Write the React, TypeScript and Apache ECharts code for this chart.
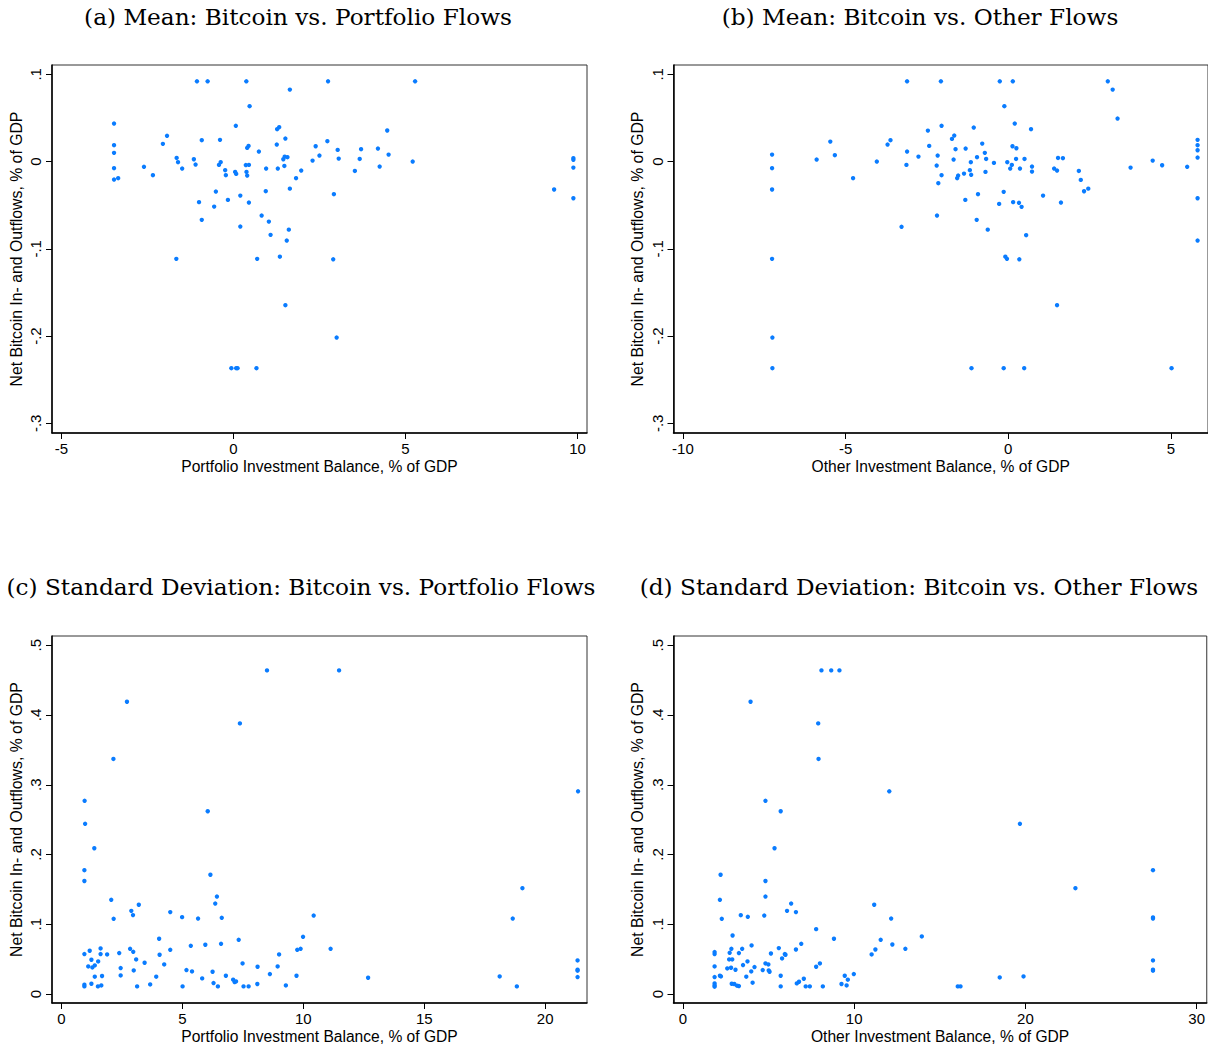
import React, { useEffect, useRef } from "react";
import * as echarts from "echarts";

// ---------- Data ----------
// Panel (a): Mean, Portfolio Investment Balance (x) vs Net Bitcoin flows (y)
const meanPortfolio: [number, number][] = [
  [-1.06, 0.092], [-0.75, 0.092], [0.375, 0.092], [1.64, 0.0825], [0.47, 0.0635],
  [-3.47, 0.0436], [0.07, 0.041], [1.33, 0.0394], [1.27, 0.0371], [1.51, 0.0264],
  [-1.93, 0.0295], [-2.05, 0.0203], [-0.92, 0.0245], [-0.39, 0.0249], [-3.47, 0.0188],
  [-3.47, 0.01], [0.44, 0.018], [0.4, 0.0157], [0.74, 0.0115], [1.26, 0.0195],
  [2.39, 0.0176], [-1.65, 0.0042], [-1.15, 0.0027], [-1.61, -0.0007], [-1.1, -0.0034],
  [-1.49, -0.008], [-0.37, -0.0007], [-0.42, -0.0038], [-0.24, -0.0099], [-0.22, -0.0156],
  [0.05, -0.0118], [0.08, -0.0141], [0.36, -0.004], [0.45, -0.0038], [0.38, -0.0118],
  [0.4, -0.016], [0.95, -0.008], [1.29, -0.008], [1.45, 0.0027], [1.49, 0.0057],
  [1.57, 0.005], [1.48, -0.005], [-3.47, -0.0076], [-3.47, -0.0206], [-3.35, -0.019],
  [-2.6, -0.006], [-2.34, -0.0156], [1.97, -0.0103], [1.82, -0.019], [2.3, 0.0011],
  [2.5, 0.0069], [-0.51, -0.0344], [-1.0, -0.0465], [-0.56, -0.0516], [-0.16, -0.0439],
  [0.2, -0.039], [0.45, -0.047], [0.94, -0.0339], [1.64, -0.031], [-0.92, -0.0668],
  [0.2, -0.0745], [0.82, -0.0619], [1.03, -0.0688], [1.08, -0.084], [1.61, -0.078],
  [1.55, -0.0905], [1.35, -0.109], [0.69, -0.1115], [-1.66, -0.1115],
  [2.75, 0.092], [5.28, 0.092], [4.47, 0.0356], [2.73, 0.0234], [3.03, 0.0134],
  [3.71, 0.0142], [4.2, 0.0149], [3.06, 0.0034], [3.67, 0.003], [4.51, 0.008],
  [4.25, -0.0057], [3.53, -0.0107], [5.21, 0.0], [2.92, -0.0374], [9.88, 0.0039],
  [9.88, 0.002], [9.88, -0.0069], [9.32, -0.032], [9.88, -0.042], [2.9, -0.112],
  [1.51, -0.1646], [3.0, -0.2017], [-0.06, -0.2368], [0.08, -0.2368], [0.12, -0.2368],
  [0.67, -0.2368],
];

// Panel (b): Mean, Other Investment Balance
const meanOther: [number, number][] = [
  [-3.11, 0.092], [-2.47, 0.0355], [-5.47, 0.0229], [-3.62, 0.0245], [-3.71, 0.0195],
  [-2.43, 0.018], [-3.11, 0.0115], [-2.76, 0.0057], [-2.17, 0.0069], [-7.26, 0.008],
  [-7.26, -0.0076], [-7.26, -0.032], [-5.89, 0.0023], [-5.33, 0.0073], [-4.04, 0.0],
  [-3.13, -0.0038], [-2.2, -0.0046], [-2.15, -0.0248], [-4.77, -0.019], [-2.19, -0.0619],
  [-3.28, -0.0748], [-7.26, -0.1115],
  [-2.07, 0.092], [-0.26, 0.092], [0.14, 0.092], [3.06, 0.092], [3.21, 0.0825],
  [3.36, 0.0493], [-0.12, 0.0635], [0.2, 0.0436], [-1.06, 0.039], [0.7, 0.0371],
  [-2.05, 0.041], [-1.66, 0.0298], [-1.73, 0.026], [-0.8, 0.0206], [-1.62, 0.0142],
  [-1.31, 0.0149], [0.13, 0.0176], [0.25, 0.0153], [-0.72, 0.01], [-1.68, 0.0023],
  [-0.96, 0.005], [-0.68, 0.003], [-1.15, -0.0007], [-0.44, -0.0015], [-0.03, -0.0007],
  [0.24, 0.003], [0.5, 0.003], [0.11, -0.0038], [0.06, -0.008], [0.36, -0.008],
  [0.73, -0.0057], [0.73, -0.0115], [1.53, 0.0042], [1.68, 0.0039], [1.41, -0.008],
  [1.5, -0.0103], [2.17, -0.0107], [2.23, -0.021], [2.46, -0.031], [2.33, -0.034],
  [3.76, -0.0069], [4.44, 0.0011], [4.73, -0.0042], [5.5, -0.006], [5.82, 0.0249],
  [5.82, 0.0188], [5.82, 0.013], [5.82, 0.0046], [5.82, -0.042], [5.82, -0.0905],
  [-2.05, -0.0156], [-1.36, -0.0138], [-1.57, -0.019], [-1.54, -0.016], [-1.18, -0.0099],
  [-1.14, -0.0152], [-0.7, -0.0118], [-0.93, -0.0374], [-1.32, -0.0439], [-0.14, -0.0347],
  [-0.28, -0.0485], [0.15, -0.0465], [0.33, -0.0473], [0.41, -0.0519], [1.07, -0.039],
  [1.62, -0.047], [-0.97, -0.0668], [-0.63, -0.078], [0.55, -0.0844], [-0.09, -0.109],
  [-0.04, -0.1115], [0.34, -0.112],
  [1.5, -0.1646], [-7.25, -0.2017], [-7.25, -0.2368], [-1.13, -0.2368], [-0.14, -0.2368],
  [0.49, -0.2368], [5.02, -0.2368],
];

// Panel (c): Standard deviation, Portfolio Investment Balance
const sdPortfolio: [number, number][] = [
  [8.5, 0.464], [2.71, 0.419], [7.38, 0.388], [2.15, 0.337], [0.96, 0.277],
  [6.05, 0.262], [0.98, 0.244], [1.36, 0.209], [11.48, 0.464], [21.36, 0.2906],
  [0.95, 0.1775], [0.95, 0.162], [6.16, 0.171], [19.06, 0.1517], [6.43, 0.1397],
  [6.36, 0.1297], [2.06, 0.135], [3.2, 0.128], [2.89, 0.1192], [2.96, 0.1131],
  [4.5, 0.1174], [2.16, 0.1078], [4.99, 0.1102], [5.65, 0.1082], [6.63, 0.1092],
  [10.43, 0.1125], [18.66, 0.1082], [4.04, 0.0792], [7.33, 0.0777], [9.99, 0.082],
  [0.95, 0.0573], [1.17, 0.062], [1.62, 0.0653], [1.62, 0.0573], [1.89, 0.0567],
  [2.39, 0.0587], [2.84, 0.0648], [2.97, 0.0605], [4.06, 0.0563], [4.5, 0.0634],
  [5.35, 0.0691], [5.95, 0.0706], [6.6, 0.072], [9.0, 0.0567], [9.75, 0.0634],
  [9.89, 0.0648], [11.13, 0.0648], [1.24, 0.0491], [1.52, 0.0467], [1.11, 0.0395],
  [1.28, 0.0381], [1.38, 0.041], [3.09, 0.0496], [3.44, 0.0448], [4.25, 0.0424],
  [7.49, 0.0438], [8.11, 0.0391], [8.94, 0.0395], [21.34, 0.0481], [2.45, 0.0372],
  [2.99, 0.0338], [5.17, 0.0343], [5.4, 0.0324], [6.25, 0.0319], [21.34, 0.0348],
  [21.34, 0.0334], [1.38, 0.0248], [1.68, 0.0258], [2.45, 0.0266], [3.92, 0.0248],
  [5.82, 0.0224], [6.8, 0.0262], [7.1, 0.0205], [7.16, 0.0172], [7.22, 0.018],
  [8.62, 0.0286], [9.72, 0.0262], [12.68, 0.0233], [18.12, 0.0252], [21.34, 0.0243],
  [0.95, 0.0133], [0.95, 0.0109], [1.24, 0.0147], [1.51, 0.0109], [1.65, 0.0123],
  [3.13, 0.0109], [3.67, 0.0137], [5.01, 0.0109], [6.29, 0.0157], [6.47, 0.0109],
  [7.53, 0.0109], [7.74, 0.0109], [8.1, 0.0143], [9.28, 0.0123], [18.83, 0.0109],
];

// Panel (d): Standard deviation, Other Investment Balance
const sdOther: [number, number][] = [
  [8.09, 0.464], [8.66, 0.464], [9.14, 0.464], [3.95, 0.419], [7.9, 0.388],
  [7.92, 0.337], [12.05, 0.2906], [4.82, 0.277], [5.71, 0.262], [5.35, 0.209],
  [19.68, 0.244], [27.45, 0.1775], [2.2, 0.171], [4.82, 0.162], [22.92, 0.1517],
  [4.82, 0.1397], [2.16, 0.135], [6.32, 0.1297], [11.17, 0.128], [6.08, 0.1192],
  [6.6, 0.1174], [3.38, 0.113], [4.75, 0.1125], [3.79, 0.1107], [2.27, 0.1078],
  [12.16, 0.1082], [27.45, 0.1097], [27.45, 0.1082], [7.78, 0.093], [2.9, 0.0839],
  [13.95, 0.0825], [8.82, 0.0792], [11.55, 0.0777], [4.01, 0.0696], [6.91, 0.072],
  [12.23, 0.071], [1.85, 0.0601], [1.85, 0.0573], [2.83, 0.0648], [3.46, 0.0648],
  [5.6, 0.0658], [6.6, 0.0638], [11.24, 0.0638], [12.99, 0.0648], [2.73, 0.0591],
  [3.27, 0.0587], [5.14, 0.0581], [5.95, 0.0573], [5.99, 0.0563], [11.02, 0.0567],
  [2.7, 0.0496], [2.88, 0.0496], [5.79, 0.051], [3.77, 0.0467], [4.82, 0.0438],
  [4.99, 0.0424], [8.0, 0.0438], [27.45, 0.0481], [1.85, 0.0395], [2.81, 0.0376],
  [2.59, 0.0367], [3.07, 0.0348], [3.51, 0.0415], [4.18, 0.0386], [3.99, 0.0324],
  [4.66, 0.0343], [5.01, 0.0338], [5.06, 0.0319], [7.78, 0.0391], [27.45, 0.0348],
  [27.45, 0.0334], [1.85, 0.0243], [2.16, 0.0262], [2.22, 0.0252], [3.7, 0.0248],
  [5.71, 0.0262], [7.06, 0.0219], [9.45, 0.0262], [9.63, 0.0205], [9.98, 0.0286],
  [18.5, 0.0238], [19.89, 0.0252], [1.85, 0.0152], [1.85, 0.0123], [1.85, 0.0105],
  [2.85, 0.0147], [3.0, 0.0143], [3.16, 0.0119], [3.27, 0.0114], [4.07, 0.0162],
  [5.71, 0.0109], [6.65, 0.0152], [6.78, 0.0176], [7.17, 0.0109], [7.41, 0.0109],
  [8.17, 0.0109], [9.26, 0.0143], [9.56, 0.0123], [16.05, 0.0109], [16.21, 0.0109],
];

// Tick values
const ticksPortfolioMean = [-5, 0, 5, 10];
const ticksOtherMean = [-10, -5, 0, 5];
const ticksMeanY = [-0.3, -0.2, -0.1, 0, 0.1];
const ticksPortfolioSd = [0, 5, 10, 15, 20];
const ticksOtherSd = [0, 10, 20, 30];
const ticksSdY = [0, 0.1, 0.2, 0.3, 0.4, 0.5];

// Titles / axis names
const panelTitles = [
  "(a) Mean: Bitcoin vs. Portfolio Flows",
  "(b) Mean: Bitcoin vs. Other Flows",
  "(c) Standard Deviation: Bitcoin vs. Portfolio Flows",
  "(d) Standard Deviation: Bitcoin vs. Other Flows",
];
const xNamePortfolio = "Portfolio Investment Balance, % of GDP";
const xNameOther = "Other Investment Balance, % of GDP";
const yName = "Net Bitcoin In- and Outflows, % of GDP";

// ---------- Styling ----------
const SANS = "'Liberation Sans', Arial, sans-serif";
const SERIF = "'DejaVu Serif', 'Liberation Serif', serif";
const BLUE = "#0A7CFF";

const fmt = (v: number) => {
  if (Math.abs(v) < 1e-9) return "0";
  const s = String(+v.toFixed(4));
  return s.replace(/^(-?)0\./, "$1.");
};

function xAxisFor(gridIndex: number, min: number, max: number, ticks: number[], name: string) {
  return {
    type: "value",
    gridIndex,
    min,
    max,
    name,
    nameLocation: "middle",
    nameGap: 25,
    nameTextStyle: { fontFamily: SANS, fontSize: 15.6, color: "#000" },
    axisLine: { show: true, onZero: false, lineStyle: { color: "#000", width: 1.5 } },
    axisTick: { show: true, customValues: ticks, length: 6, lineStyle: { color: "#000", width: 1 } },
    axisLabel: { show: true, customValues: ticks, margin: 8, fontFamily: SANS, fontSize: 15, color: "#000", formatter: fmt },
    splitLine: { show: false },
  };
}

function yAxisFor(gridIndex: number, min: number, max: number, ticks: number[], name: string) {
  return {
    type: "value",
    gridIndex,
    min,
    max,
    name,
    nameLocation: "middle",
    nameGap: 28,
    nameRotate: 90,
    nameTextStyle: { fontFamily: SANS, fontSize: 15.8, color: "#000" },
    axisLine: { show: true, onZero: false, lineStyle: { color: "#000", width: 1.5 } },
    axisTick: { show: true, customValues: ticks, length: 6, lineStyle: { color: "#000", width: 1 } },
    axisLabel: { show: true, customValues: ticks, rotate: 90, margin: 9, fontFamily: SANS, fontSize: 15, color: "#000", formatter: fmt },
    splitLine: { show: false },
  };
}

const gridStyle = { show: true, borderColor: "#333", borderWidth: 1, backgroundColor: "transparent", containLabel: false };

export default function App() {
  const ref = useRef<HTMLDivElement>(null);
  useEffect(() => {
    if (!ref.current) return;
    const chart = echarts.init(ref.current, null, { renderer: "svg" });
    const series = [meanPortfolio, meanOther, sdPortfolio, sdOther].map((d, i) => ({
      type: "scatter",
      xAxisIndex: i,
      yAxisIndex: i,
      data: d,
      symbol: "circle",
      symbolSize: 4.4,
      itemStyle: { color: BLUE, opacity: 1 },
      silent: true,
    }));
    chart.setOption({
      animation: false,
      backgroundColor: "#fff",
      grid: [
        { ...gridStyle, left: 52, top: 65, width: 535, height: 368 },
        { ...gridStyle, left: 673.5, top: 65, width: 536, height: 368 },
        { ...gridStyle, left: 52, top: 636, width: 535, height: 367 },
        { ...gridStyle, left: 673.5, top: 636, width: 536, height: 367 },
      ],
      xAxis: [
        xAxisFor(0, -5.273, 10.276, ticksPortfolioMean, xNamePortfolio),
        xAxisFor(1, -10.29, 6.14, ticksOtherMean, xNameOther),
        xAxisFor(2, -0.389, 21.73, ticksPortfolioSd, xNamePortfolio),
        xAxisFor(3, -0.55, 30.59, ticksOtherSd, xNameOther),
      ],
      yAxis: [
        yAxisFor(0, -0.3111, 0.1107, ticksMeanY, yName),
        yAxisFor(1, -0.3111, 0.1107, ticksMeanY, yName),
        yAxisFor(2, -0.0129, 0.5133, ticksSdY, yName),
        yAxisFor(3, -0.0129, 0.5133, ticksSdY, yName),
      ],
      series,
      graphic: [
        { x: 298, y: 16 },
        { x: 920, y: 16 },
        { x: 301, y: 586 },
        { x: 919, y: 586 },
      ].map((p, i) => ({
        type: "text",
        x: p.x,
        y: p.y,
        style: {
          text: panelTitles[i],
          font: `23.2px ${SERIF}`,
          fill: "#000",
          textAlign: "center",
          textVerticalAlign: "middle",
        },
      })),
    });
    return () => chart.dispose();
  }, []);
  return (
    <div
      ref={ref}
      style={{ position: "absolute", left: 0, top: 0, width: 1208, height: 1047, overflow: "hidden" }}
    />
  );
}
